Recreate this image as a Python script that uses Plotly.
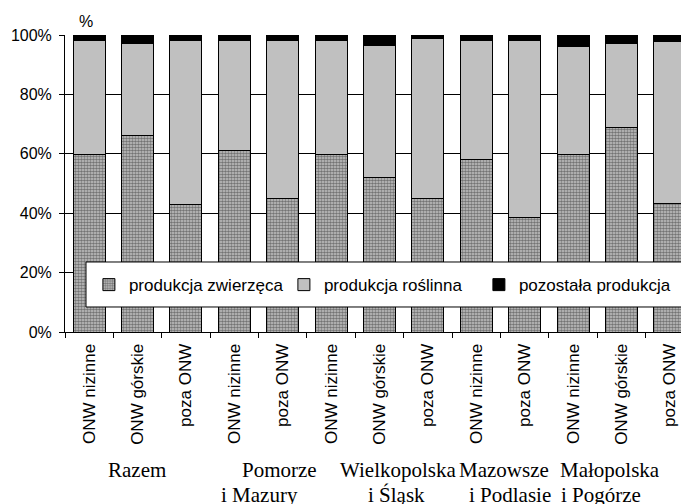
import plotly.graph_objects as go

categories = ["ONW nizinne", "ONW górskie", "poza ONW",
              "ONW nizinne", "poza ONW",
              "ONW nizinne", "ONW górskie", "poza ONW",
              "ONW nizinne", "poza ONW",
              "ONW nizinne", "ONW górskie", "poza ONW"]
zwierzeca = [59.7, 66.1, 42.9, 61.1, 45.0, 59.7, 52.0, 45.0, 58.2, 38.4, 59.9, 68.8, 43.2]
roslinna = [38.3, 30.9, 55.4, 37.2, 53.3, 38.6, 44.4, 53.8, 40.0, 59.8, 36.2, 28.2, 54.5]
pozostala = [2.0, 3.0, 1.7, 1.7, 1.7, 1.7, 3.6, 1.2, 1.8, 1.8, 3.9, 3.0, 2.3]
series_names = ["produkcja zwierzęca", "produkcja roślinna", "pozostała produkcja"]
groups_line1 = [("Razem", 0.99), ("Pomorze", 3.94), ("Wielkopolska", 6.38),
                ("Mazowsze", 8.57), ("Małopolska", 10.76)]
groups_line2 = [("i Mazury", 3.52), ("i Śląsk", 6.36), ("i Podlasie", 8.70),
                ("i Pogórze", 10.58)]
y_ticks = [0, 20, 40, 60, 80, 100]
y_ticktext = ["0%", "20%", "40%", "60%", "80%", "100%"]

SANS = "Liberation Sans, Arial, sans-serif"
SERIF = "Liberation Serif, Times New Roman, serif"

x = list(range(len(categories)))
fig = go.Figure()
fig.add_trace(go.Bar(
    x=x, y=zwierzeca, name=series_names[0],
    marker=dict(color="#b0b0b0", line=dict(color="black", width=1),
                pattern=dict(shape=".", size=3, solidity=0.6,
                             fgcolor="#202020", bgcolor="#c8c8c8"))))
fig.add_trace(go.Bar(
    x=x, y=roslinna, name=series_names[1],
    marker=dict(color="#c0c0c0", line=dict(color="black", width=1))))
fig.add_trace(go.Bar(
    x=x, y=pozostala, name=series_names[2],
    marker=dict(color="black", line=dict(color="black", width=1))))

fig.update_layout(
    barmode="stack", bargap=0.338,
    width=689, height=504,
    margin=dict(l=57, r=3, t=27, b=180, autoexpand=False),
    paper_bgcolor="white", plot_bgcolor="white",
    font=dict(family=SANS, size=16, color="black"),
    showlegend=True,
    legend=dict(orientation="h", x=0.038, xanchor="left", y=0.158, yanchor="middle",
                bgcolor="rgba(0,0,0,0)", borderwidth=0, traceorder="normal",
                entrywidth=150, entrywidthmode="pixels",
                font=dict(family=SANS, size=17, color="black")),
    xaxis=dict(range=[-0.5, 12.5], tickmode="array", tickvals=x, ticktext=categories,
               tickangle=-90, ticks="", showgrid=False, zeroline=False,
               showline=True, linecolor="black", linewidth=1,
               ticklabelstandoff=4,
               tickfont=dict(family=SANS, size=17),
               minor=dict(tickmode="array", tickvals=[i - 0.5 for i in range(14)],
                          ticks="outside", ticklen=5, tickcolor="black", showgrid=False)),
    yaxis=dict(range=[0, 100], tickmode="array", tickvals=y_ticks, ticktext=y_ticktext,
               ticks="outside", ticklen=5, tickcolor="black",
               showgrid=True, gridcolor="black", gridwidth=1, zeroline=False,
               showline=True, linecolor="black", linewidth=1,
               ticklabelstandoff=4,
               tickfont=dict(family=SANS, size=16)),
)

# legend frame
fig.add_shape(type="rect", xref="paper", yref="paper",
              x0=0.0334, x1=0.981, y0=0.0842, y1=0.2357,
              line=dict(color="black", width=1), fillcolor="white", layer="above")

fig.add_annotation(text="%", xref="paper", yref="paper", x=0.0334, y=1.047,
                   xanchor="center", yanchor="middle",
                   showarrow=False, font=dict(family=SANS, size=16))

for txt, gx in groups_line1:
    fig.add_annotation(text=txt, xref="x", yref="paper", x=gx, y=-0.466,
                       yanchor="middle", showarrow=False,
                       font=dict(family=SERIF, size=21, color="black"))
for txt, gx in groups_line2:
    fig.add_annotation(text=txt, xref="x", yref="paper", x=gx, y=-0.550,
                       yanchor="middle", showarrow=False,
                       font=dict(family=SERIF, size=21, color="black"))

fig.write_html("out.html")
